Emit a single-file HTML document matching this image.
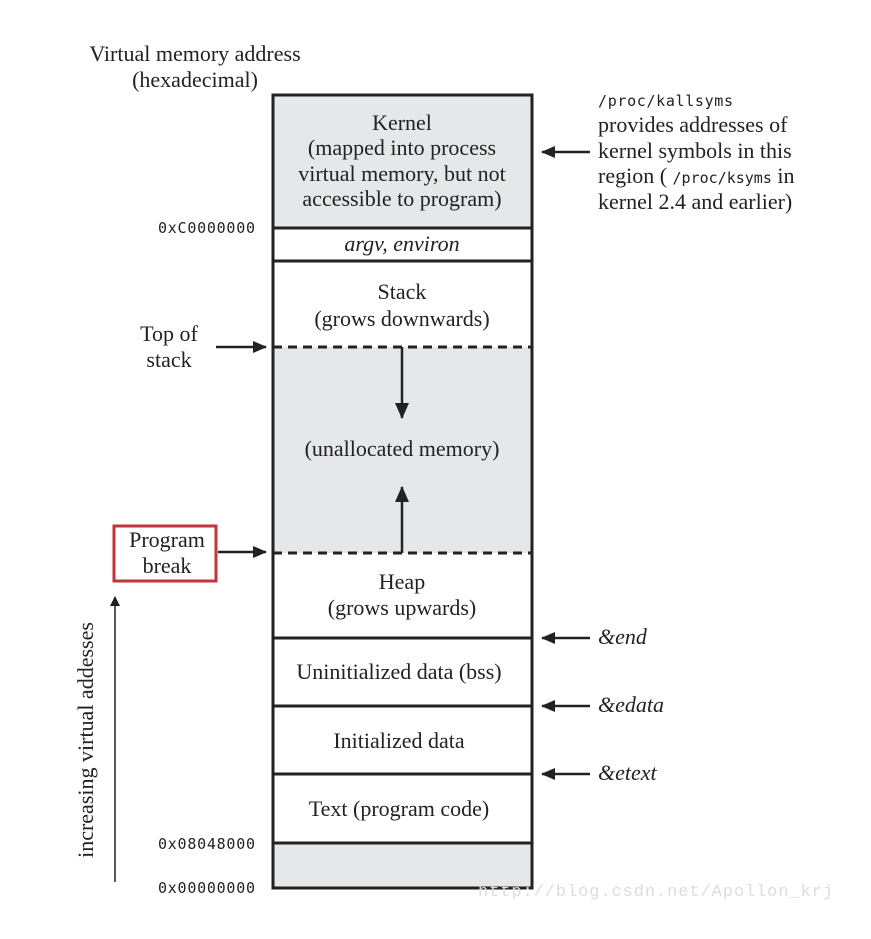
<!DOCTYPE html>
<html><head><meta charset="utf-8"><style>
html,body{margin:0;padding:0;background:#fff;}
svg{display:block;}
.s{font-family:"Liberation Serif",serif;font-size:22px;fill:#222;}
.m{font-family:"DejaVu Sans Mono","Liberation Mono",monospace;font-size:15px;fill:#222;}
</style></head><body>
<svg width="871" height="939" viewBox="0 0 871 939" xmlns="http://www.w3.org/2000/svg">
<defs>
<marker id="a" markerWidth="14" markerHeight="12" refX="13" refY="6" orient="auto" markerUnits="userSpaceOnUse">
<path d="M0,0 L14,6 L0,12 Z" fill="#222"/></marker>
<marker id="u" markerWidth="10" markerHeight="12" refX="9" refY="6" orient="auto" markerUnits="userSpaceOnUse">
<path d="M0,1 L10,6 L0,11 Z" fill="#222"/></marker>
<marker id="b" markerWidth="16" markerHeight="14" refX="15" refY="7" orient="auto" markerUnits="userSpaceOnUse">
<path d="M0,0 L16,7 L0,14 Z" fill="#222"/></marker>
</defs>
<text class="s" x="195" y="61" text-anchor="middle">Virtual memory address</text>
<text class="s" x="195" y="87" text-anchor="middle">(hexadecimal)</text>
<rect x="273" y="95" width="259" height="132" fill="#e6e7e9"/>
<rect x="273" y="347" width="259" height="206" fill="#e6e7e9"/>
<rect x="273" y="843" width="259" height="45" fill="#e6e7e9"/>
<rect x="273" y="95" width="259" height="793" fill="none" stroke="#222" stroke-width="3"/>
<g stroke="#222" stroke-width="3">
<line x1="273" y1="228" x2="532" y2="228"/>
<line x1="273" y1="261" x2="532" y2="261"/>
<line x1="273" y1="638" x2="532" y2="638"/>
<line x1="273" y1="706" x2="532" y2="706"/>
<line x1="273" y1="774" x2="532" y2="774"/>
<line x1="273" y1="843" x2="532" y2="843"/>
</g>
<g stroke="#222" stroke-width="3" stroke-dasharray="9,6">
<line x1="273" y1="347" x2="532" y2="347"/>
<line x1="273" y1="553" x2="532" y2="553"/>
</g>
<line x1="402" y1="347" x2="402" y2="418" stroke="#222" stroke-width="2.5" marker-end="url(#b)"/>
<line x1="402" y1="553" x2="402" y2="487" stroke="#222" stroke-width="2.5" marker-end="url(#b)"/>
<text class="s" x="402" y="130" text-anchor="middle">Kernel</text>
<text class="s" x="402" y="155" text-anchor="middle">(mapped into process</text>
<text class="s" x="402" y="181" text-anchor="middle">virtual memory, but not</text>
<text class="s" x="402" y="206" text-anchor="middle">accessible to program)</text>
<text class="s" x="402" y="251" text-anchor="middle" font-style="italic">argv, environ</text>
<text class="s" x="402" y="299" text-anchor="middle">Stack</text>
<text class="s" x="402" y="326" text-anchor="middle">(grows downwards)</text>
<text class="s" x="402" y="456" text-anchor="middle">(unallocated memory)</text>
<text class="s" x="402" y="589" text-anchor="middle">Heap</text>
<text class="s" x="402" y="615" text-anchor="middle">(grows upwards)</text>
<text class="s" x="399" y="679" text-anchor="middle">Uninitialized data (bss)</text>
<text class="s" x="399" y="748" text-anchor="middle">Initialized data</text>
<text class="s" x="399" y="816" text-anchor="middle">Text (program code)</text>
<text class="m" x="158" y="233" textLength="97">0xC0000000</text>
<text class="m" x="158" y="849" textLength="97">0x08048000</text>
<text class="m" x="158" y="893" textLength="97">0x00000000</text>
<text class="s" x="169" y="341" text-anchor="middle">Top of</text>
<text class="s" x="169" y="367" text-anchor="middle">stack</text>
<line x1="216" y1="347" x2="266" y2="347" stroke="#222" stroke-width="2.5" marker-end="url(#a)"/>
<rect x="114" y="526" width="102" height="55" fill="none" stroke="#c0343c" stroke-width="3"/>
<text class="s" x="167" y="547" text-anchor="middle">Program</text>
<text class="s" x="167" y="573" text-anchor="middle">break</text>
<line x1="218" y1="552" x2="266" y2="552" stroke="#222" stroke-width="2.5" marker-end="url(#a)"/>
<line x1="115" y1="882" x2="115" y2="597" stroke="#222" stroke-width="1.5" marker-end="url(#u)"/>
<text class="s" transform="translate(93,740) rotate(-90)" text-anchor="middle">increasing virtual addesses</text>
<line x1="590" y1="152" x2="542" y2="152" stroke="#222" stroke-width="2.5" marker-end="url(#a)"/>
<text class="m" x="598" y="106" textLength="135">/proc/kallsyms</text>
<text class="s" x="598" y="132">provides addresses of</text>
<text class="s" x="598" y="158">kernel symbols in this</text>
<text class="s" x="598" y="183">region ( <tspan class="m">/proc/ksyms</tspan> in</text>
<text class="s" x="598" y="209">kernel 2.4 and earlier)</text>
<line x1="590" y1="638" x2="542" y2="638" stroke="#222" stroke-width="2.5" marker-end="url(#a)"/>
<line x1="590" y1="706" x2="542" y2="706" stroke="#222" stroke-width="2.5" marker-end="url(#a)"/>
<line x1="590" y1="774" x2="542" y2="774" stroke="#222" stroke-width="2.5" marker-end="url(#a)"/>
<text class="s" x="598" y="644" font-style="italic">&amp;end</text>
<text class="s" x="598" y="712" font-style="italic">&amp;edata</text>
<text class="s" x="598" y="780" font-style="italic">&amp;etext</text>
<text x="478" y="896" font-family="Liberation Mono,monospace" font-size="17" fill="#ddd" textLength="355">http://blog.csdn.net/Apollon_krj</text>
</svg>
</body></html>
